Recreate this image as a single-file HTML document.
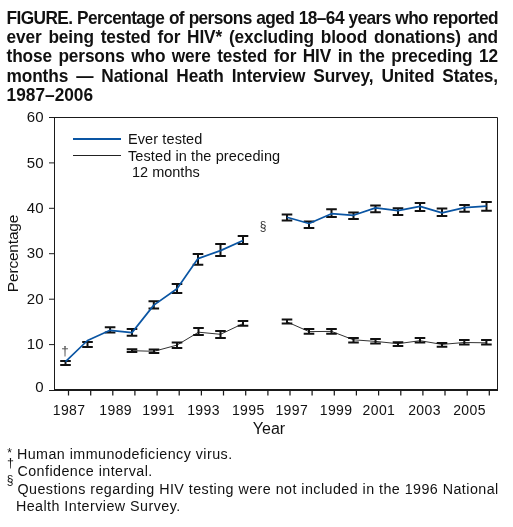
<!DOCTYPE html>
<html><head><meta charset="utf-8"><style>
html,body{margin:0;padding:0;background:#fff;}
body{will-change:transform;width:513px;height:527px;position:relative;overflow:hidden;font-family:"Liberation Sans",sans-serif;color:#111;}
.t{position:absolute;left:6.6px;width:491.4px;font-weight:bold;font-size:17.3px;line-height:19.2px;white-space:nowrap;}
.t div{text-align:justify;text-align-last:justify;height:19.2px;transform:scaleY(1.09);transform-origin:0 15.6px;}
.fn{position:absolute;margin-left:-0.6px;transform:scaleY(1.08);transform-origin:0 13.2px;font-size:14.3px;line-height:17px;white-space:nowrap;letter-spacing:0.45px;}
.sym{position:absolute;font-size:12px;line-height:12px;}
</style></head><body>
<div class="t" style="top:9px">
<div id="l1" style="letter-spacing:-0.6px;word-spacing:-0.5px">FIGURE. Percentage of persons aged 18–64 years who reported</div>
<div id="l2" style="letter-spacing:-0.15px">ever being tested for HIV* (excluding blood donations) and</div>
<div id="l3" style="letter-spacing:-0.15px">those persons who were tested for HIV in the preceding 12</div>
<div id="l4" style="letter-spacing:-0.15px">months — National Heath Interview Survey, United States,</div>
<div id="l5" style="text-align:left;text-align-last:left">1987–2006</div>
</div>
<svg width="513" height="527" viewBox="0 0 513 527" style="position:absolute;left:0;top:0"><g stroke="#1a1a1a" fill="none"><path d="M49,117.5 H497.5 V390" stroke-width="1"/><path d="M54.5,117.5 V390" stroke-width="1"/><path d="M54,390 H498" stroke-width="2"/><path d="M49,390.5 H54.5" stroke-width="1"/><path d="M49,344.6 H54.5" stroke-width="1"/><path d="M49,299.2 H54.5" stroke-width="1"/><path d="M49,253.7 H54.5" stroke-width="1"/><path d="M49,208.3 H54.5" stroke-width="1"/><path d="M49,162.9 H54.5" stroke-width="1"/><path d="M49,117.5 H54.5" stroke-width="1"/><path d="M68.5,390 V395.5" stroke-width="1.25"/><path d="M90.7,390 V395.5" stroke-width="1.25"/><path d="M112.8,390 V395.5" stroke-width="1.25"/><path d="M134.9,390 V395.5" stroke-width="1.25"/><path d="M157.1,390 V395.5" stroke-width="1.25"/><path d="M179.2,390 V395.5" stroke-width="1.25"/><path d="M201.4,390 V395.5" stroke-width="1.25"/><path d="M223.5,390 V395.5" stroke-width="1.25"/><path d="M245.7,390 V395.5" stroke-width="1.25"/><path d="M267.9,390 V395.5" stroke-width="1.25"/><path d="M290.0,390 V395.5" stroke-width="1.25"/><path d="M312.1,390 V395.5" stroke-width="1.25"/><path d="M334.3,390 V395.5" stroke-width="1.25"/><path d="M356.4,390 V395.5" stroke-width="1.25"/><path d="M378.6,390 V395.5" stroke-width="1.25"/><path d="M400.8,390 V395.5" stroke-width="1.25"/><path d="M422.9,390 V395.5" stroke-width="1.25"/><path d="M445.0,390 V395.5" stroke-width="1.25"/><path d="M467.2,390 V395.5" stroke-width="1.25"/><path d="M489.3,390 V395.5" stroke-width="1.25"/></g><g fill="none" stroke="#333" stroke-width="1"><path d="M132.0,350.7 L154.0,351.3 L177.0,345.1 L198.5,332.2 L220.5,334.3 L243.0,323.6"/><path d="M287.0,321.9 L309.0,331.6 L331.5,331.4 L353.5,339.8 L375.5,341.4 L398.0,343.7 L420.0,340.7 L442.0,344.4 L464.3,342.5 L486.4,342.8"/></g><g fill="none" stroke="#111" stroke-width="2"><path d="M126.7,349.3 H137.3 M132.0,349.3 V352.1 M126.7,352.1 H137.3"/><path d="M148.7,349.4 H159.3 M154.0,349.4 V352.9 M148.7,352.9 H159.3"/><path d="M171.7,342.4 H182.3 M177.0,342.4 V348.0 M171.7,348.0 H182.3"/><path d="M193.2,328.0 H203.8 M198.5,328.0 V334.9 M193.2,334.9 H203.8"/><path d="M215.2,331.1 H225.8 M220.5,331.1 V337.9 M215.2,337.9 H225.8"/><path d="M237.7,321.1 H248.3 M243.0,321.1 V325.8 M237.7,325.8 H248.3"/><path d="M281.7,319.6 H292.3 M287.0,319.6 V323.5 M281.7,323.5 H292.3"/><path d="M303.7,328.9 H314.3 M309.0,328.9 V333.7 M303.7,333.7 H314.3"/><path d="M326.2,329.1 H336.8 M331.5,329.1 V333.7 M326.2,333.7 H336.8"/><path d="M348.2,338.1 H358.8 M353.5,338.1 V342.4 M348.2,342.4 H358.8"/><path d="M370.2,339.1 H380.8 M375.5,339.1 V343.6 M370.2,343.6 H380.8"/><path d="M392.7,342.2 H403.3 M398.0,342.2 V345.9 M392.7,345.9 H403.3"/><path d="M414.7,338.1 H425.3 M420.0,338.1 V342.5 M414.7,342.5 H425.3"/><path d="M436.7,343.1 H447.3 M442.0,343.1 V346.8 M436.7,346.8 H447.3"/><path d="M459.0,340.1 H469.6 M464.3,340.1 V344.5 M459.0,344.5 H469.6"/><path d="M481.1,340.1 H491.7 M486.4,340.1 V344.5 M481.1,344.5 H491.7"/><path d="M60.2,361.0 H70.8 M65.5,361.0 V365.0 M60.2,365.0 H70.8"/><path d="M82.2,342.0 H92.8 M87.5,342.0 V347.0 M82.2,347.0 H92.8"/><path d="M104.8,327.2 H115.4 M110.1,327.2 V332.4 M104.8,332.4 H115.4"/><path d="M126.7,329.0 H137.3 M132.0,329.0 V335.8 M126.7,335.8 H137.3"/><path d="M148.5,301.2 H159.1 M153.8,301.2 V308.6 M148.5,308.6 H159.1"/><path d="M171.7,284.0 H182.3 M177.0,284.0 V292.9 M171.7,292.9 H182.3"/><path d="M192.7,254.1 H203.3 M198.0,254.1 V264.8 M192.7,264.8 H203.3"/><path d="M215.2,244.0 H225.8 M220.5,244.0 V256.0 M215.2,256.0 H225.8"/><path d="M237.7,236.1 H248.3 M243.0,236.1 V244.0 M237.7,244.0 H248.3"/><path d="M281.7,214.4 H292.3 M287.0,214.4 V220.6 M281.7,220.6 H292.3"/><path d="M303.7,221.4 H314.3 M309.0,221.4 V228.0 M303.7,228.0 H314.3"/><path d="M326.2,209.3 H336.8 M331.5,209.3 V217.1 M326.2,217.1 H336.8"/><path d="M348.2,212.4 H358.8 M353.5,212.4 V219.0 M348.2,219.0 H358.8"/><path d="M370.2,205.4 H380.8 M375.5,205.4 V212.2 M370.2,212.2 H380.8"/><path d="M392.7,208.2 H403.3 M398.0,208.2 V215.1 M392.7,215.1 H403.3"/><path d="M414.7,203.1 H425.3 M420.0,203.1 V211.0 M414.7,211.0 H425.3"/><path d="M436.7,208.5 H447.3 M442.0,208.5 V215.9 M436.7,215.9 H447.3"/><path d="M459.2,204.9 H469.8 M464.5,204.9 V211.8 M459.2,211.8 H469.8"/><path d="M481.2,202.0 H491.8 M486.5,202.0 V210.8 M481.2,210.8 H491.8"/></g><g fill="none" stroke="#0a55a3" stroke-width="1.7" stroke-linejoin="round"><path d="M65.5,361.6 L87.5,340.5 L110.1,330.3 L132.0,332.6 L153.8,305.1 L177.0,288.7 L198.0,258.6 L220.5,250.6 L243.0,240.5"/><path d="M287.0,217.3 L309.0,223.5 L331.5,213.7 L353.5,215.3 L375.5,207.9 L398.0,210.7 L420.0,206.4 L442.0,212.9 L464.5,207.7 L486.5,206.1"/></g><path d="M73,139 H121" stroke="#0a55a3" stroke-width="2"/><path d="M73,155.5 H121" stroke="#222" stroke-width="1.1"/><g font-family="Liberation Sans" font-size="15" fill="#111" text-anchor="end" letter-spacing="0.2"><text x="43.8" y="391.6">0</text><text x="43.8" y="349.2">10</text><text x="43.8" y="303.8">20</text><text x="43.8" y="258.3">30</text><text x="43.8" y="212.9">40</text><text x="43.8" y="167.5">50</text><text x="43.8" y="122.1">60</text></g><g font-family="Liberation Sans" font-size="14" fill="#111" text-anchor="middle" letter-spacing="0.4"><text x="69.1" y="414.8">1987</text><text x="115.7" y="414.8">1989</text><text x="158.5" y="414.8">1991</text><text x="203.5" y="414.8">1993</text><text x="248.3" y="414.8">1995</text><text x="291.8" y="414.8">1997</text><text x="336.1" y="414.8">1999</text><text x="378.9" y="414.8">2001</text><text x="424.5" y="414.8">2003</text><text x="469.5" y="414.8">2005</text></g><text x="269" y="433.8" font-family="Liberation Sans" font-size="16" fill="#111" text-anchor="middle">Year</text><text transform="translate(18.2,253.5) rotate(-90)" font-family="Liberation Sans" font-size="15.5" fill="#111" text-anchor="middle" letter-spacing="-0.2">Percentage</text><g font-family="Liberation Sans" font-size="14.5" fill="#111" letter-spacing="0.2"><text x="128" y="143.6" letter-spacing="0.1">Ever tested</text><text x="128" y="160.6" letter-spacing="0.1">Tested in the preceding</text><text x="132" y="177.3" letter-spacing="0">12 months</text></g><text x="65" y="355.3" font-family="Liberation Sans" font-size="13.5" fill="#444" text-anchor="middle">†</text><text x="263" y="229.5" font-family="Liberation Sans" font-size="12" fill="#333" text-anchor="middle">§</text></svg>
<div class="fn" id="f1" style="left:17.5px;top:445.9px">Human immunodeficiency virus.</div>
<div class="fn" id="f2" style="left:18px;top:462.8px">Confidence interval.</div>
<div class="fn" id="f3" style="left:18px;top:480.5px">Questions regarding HIV testing were not included in the 1996 National</div>
<div class="fn" id="f4" style="left:16.5px;top:497.5px">Health Interview Survey.</div>
<div class="sym" style="left:7.2px;top:447px">*</div>
<div class="sym" style="left:7px;top:457px;font-size:12.5px">†</div>
<div class="sym" style="left:6.8px;top:474px">§</div>
</body></html>
